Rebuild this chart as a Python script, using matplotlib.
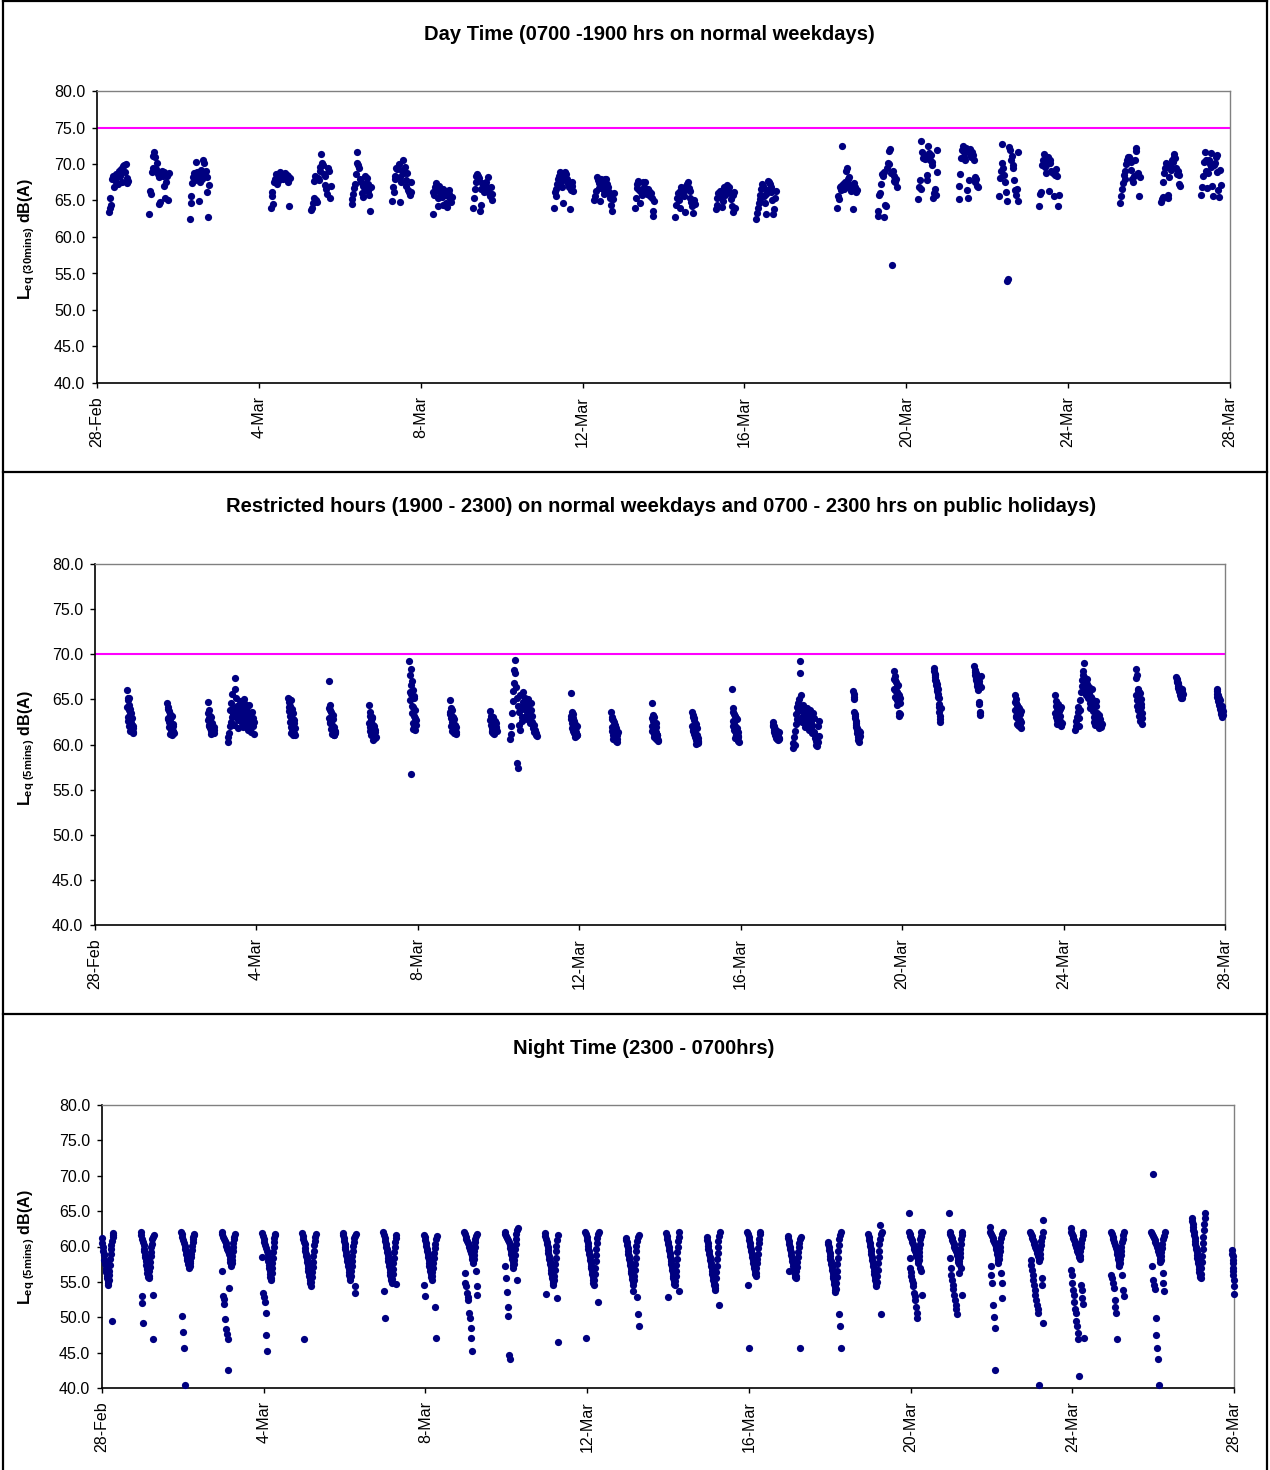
import matplotlib
matplotlib.use('Agg')
import matplotlib.pyplot as plt
from matplotlib.lines import Line2D
import numpy as np

plt.rcParams['font.family'] = ['Liberation Sans', 'DejaVu Sans']
plt.rcParams['mathtext.fontset'] = 'custom'
plt.rcParams['mathtext.rm'] = 'Liberation Sans'
plt.rcParams['mathtext.bf'] = 'Liberation Sans:bold'
plt.rcParams['mathtext.it'] = 'Liberation Sans:italic'

# ---------------- data ----------------
TICK_DAYS = [0, 4, 8, 12, 16, 20, 24, 28]          # days since 28-Feb 00:00
TICK_LABELS = ['28-Feb', '4-Mar', '8-Mar', '12-Mar', '16-Mar', '20-Mar', '24-Mar', '28-Mar']
Y_TICKS = [40.0, 45.0, 50.0, 55.0, 60.0, 65.0, 70.0, 75.0, 80.0]

TITLE_DAY = 'Day Time (0700 -1900 hrs on normal weekdays)'
TITLE_RESTR = 'Restricted hours (1900 - 2300) on normal weekdays and 0700 - 2300 hrs on public holidays)'
TITLE_NIGHT = 'Night Time (2300 - 0700hrs)'

DAY_LIMIT = 75.0
RESTR_LIMIT = 70.0

# Day time: Leq(30 min), 07:00-19:00 on normal weekdays
DAY_DAYS = [0, 1, 2, 4, 5, 6, 7, 8, 9, 11, 12, 13, 14, 15, 16, 18, 19, 20, 21, 22, 23, 25, 26, 27]
DAY_VALUES = [
    [63.4, 65.3, 64.0, 64.4, 67.9, 68.3, 66.8, 68.0, 67.5, 68.6, 68.2, 67.2, 69.0, 68.4, 69.3, 68.8, 67.6, 69.7, 69.9, 68.9, 70.0, 68.1, 67.4, 67.7],
    [63.2, 66.3, 65.9, 68.9, 69.5, 71.1, 71.6, 70.9, 69.3, 70.2, 68.6, 68.2, 64.5, 64.8, 68.7, 69.1, 68.3, 68.9, 67.0, 65.4, 67.5, 68.4, 65.0, 68.8],
    [62.4, 65.6, 64.7, 67.4, 68.2, 68.7, 67.8, 70.3, 68.4, 68.9, 68.1, 64.9, 67.6, 69.2, 68.6, 68.0, 70.6, 70.2, 68.4, 69.0, 68.2, 66.2, 62.8, 67.1],
    [64.0, 66.1, 65.6, 64.5, 67.5, 68.0, 68.6, 67.2, 68.5, 68.3, 67.8, 68.9, 68.4, 68.6, 68.1, 67.9, 68.4, 68.7, 68.2, 68.5, 67.6, 68.4, 64.3, 68.1],
    [63.7, 64.0, 64.6, 65.3, 67.7, 68.4, 65.0, 64.8, 68.1, 67.8, 69.0, 69.6, 71.4, 70.2, 69.9, 68.6, 68.4, 67.1, 66.6, 65.9, 69.4, 69.1, 65.3, 67.0],
    [64.5, 65.2, 65.9, 66.7, 67.3, 68.6, 70.2, 71.6, 69.8, 69.4, 68.0, 67.6, 66.0, 65.5, 67.0, 66.8, 68.3, 67.4, 68.1, 67.3, 66.3, 65.8, 63.6, 66.9],
    [64.9, 66.9, 66.1, 67.9, 68.4, 69.4, 69.3, 69.5, 70.0, 64.8, 68.2, 67.5, 69.1, 70.5, 68.8, 69.6, 67.8, 67.0, 68.7, 66.4, 66.2, 65.7, 67.5, 66.1],
    [63.2, 66.1, 65.8, 66.8, 67.4, 66.4, 65.3, 64.2, 67.0, 66.2, 65.9, 65.5, 64.4, 66.6, 65.7, 66.3, 64.6, 64.1, 65.6, 65.9, 66.5, 65.3, 64.8, 65.5],
    [64.0, 65.4, 66.6, 67.6, 68.3, 68.6, 68.4, 68.1, 63.6, 64.4, 66.6, 67.4, 66.7, 66.2, 66.9, 66.5, 67.6, 66.8, 68.2, 66.0, 65.6, 66.8, 65.1, 65.9],
    [64.0, 66.1, 65.6, 66.6, 67.2, 67.9, 68.4, 68.9, 68.2, 67.5, 66.9, 64.6, 68.3, 68.9, 68.6, 68.0, 67.7, 67.2, 66.8, 63.9, 66.4, 67.5, 67.0, 66.3],
    [65.0, 65.6, 66.3, 68.2, 67.8, 67.4, 66.7, 64.9, 68.0, 67.3, 66.6, 65.9, 66.5, 67.9, 68.0, 67.2, 66.8, 66.2, 65.7, 65.4, 64.4, 63.6, 65.2, 66.0],
    [64.0, 65.4, 66.7, 67.2, 67.7, 66.5, 64.6, 66.2, 66.0, 65.8, 67.5, 66.9, 67.6, 66.4, 65.9, 66.1, 66.6, 66.3, 65.6, 66.0, 65.3, 63.5, 62.9, 64.9],
    [62.7, 64.4, 65.4, 66.0, 65.1, 64.0, 66.3, 66.8, 66.1, 65.8, 65.6, 63.4, 66.5, 67.0, 67.2, 67.5, 66.7, 66.3, 65.3, 64.8, 64.2, 63.3, 65.0, 64.5],
    [63.8, 64.4, 65.4, 66.0, 65.6, 66.3, 65.5, 64.1, 64.9, 66.4, 66.8, 65.8, 66.7, 67.1, 66.5, 66.1, 66.9, 66.0, 65.2, 64.2, 65.7, 63.4, 66.2, 64.0],
    [62.4, 63.3, 64.0, 64.7, 65.2, 65.8, 66.6, 67.3, 67.0, 65.6, 64.6, 63.1, 65.9, 66.4, 67.7, 67.5, 67.3, 66.9, 66.1, 65.0, 63.2, 63.8, 65.4, 66.3],
    [64.0, 65.6, 65.2, 66.8, 67.0, 66.4, 72.5, 67.2, 66.6, 67.5, 66.9, 69.0, 69.5, 67.9, 68.2, 67.1, 66.7, 66.3, 66.9, 63.8, 67.4, 66.9, 66.1, 66.5],
    [62.9, 63.6, 65.7, 66.0, 67.3, 68.6, 68.3, 68.9, 62.8, 64.4, 64.2, 69.4, 70.2, 70.0, 71.8, 72.0, 68.7, 56.1, 69.1, 67.7, 68.4, 67.6, 68.0, 66.8],
    [65.2, 66.9, 67.8, 66.6, 73.1, 71.6, 70.8, 71.3, 70.7, 71.0, 67.8, 68.5, 72.4, 71.5, 70.5, 71.2, 69.9, 70.3, 65.4, 66.0, 66.6, 65.7, 68.9, 71.9],
    [65.2, 67.0, 68.6, 70.8, 71.9, 72.5, 71.0, 71.6, 70.5, 72.2, 66.4, 65.4, 67.8, 71.4, 72.1, 70.9, 71.6, 71.2, 70.6, 68.2, 67.5, 67.9, 67.0, 66.8],
    [65.6, 68.1, 69.0, 70.2, 72.8, 69.5, 68.5, 67.6, 66.1, 64.9, 54.0, 54.2, 72.3, 71.9, 70.6, 71.1, 69.8, 69.4, 67.8, 66.5, 65.8, 66.6, 71.6, 64.9],
    [64.3, 65.9, 66.2, 69.9, 70.6, 71.4, 70.4, 69.6, 68.8, 70.0, 71.0, 66.3, 70.5, 70.1, 69.1, 68.9, 68.7, 65.6, 68.5, 68.6, 69.3, 68.4, 64.2, 65.8],
    [64.7, 65.6, 66.6, 67.4, 68.5, 69.0, 68.0, 70.0, 70.6, 70.9, 71.0, 70.7, 70.3, 69.2, 67.9, 67.5, 68.4, 70.5, 72.2, 71.8, 68.6, 68.8, 65.6, 68.2],
    [64.8, 65.2, 65.5, 67.5, 68.7, 69.4, 70.1, 69.9, 65.7, 65.3, 68.2, 69.7, 69.2, 70.5, 70.3, 71.0, 71.4, 70.8, 69.5, 68.6, 69.0, 68.5, 67.2, 67.0],
    [65.8, 66.8, 68.4, 70.3, 71.7, 70.6, 69.1, 66.7, 68.7, 70.5, 70.0, 71.5, 69.6, 67.0, 65.6, 69.8, 70.2, 70.9, 71.2, 68.9, 66.5, 65.5, 69.2, 67.1],
]

# Restricted hours: Leq(5 min); 19:00-23:00 on normal days, 07:00-23:00 on holidays (Sundays)
RESTR_DAYS = list(range(28))
RESTR_HOLIDAYS = [3, 10, 17, 24]
RESTR_VALUES = [
    [66.0, 64.2, 64.9, 63.1, 65.2, 62.6, 64.4, 63.8, 62.0, 65.1, 63.4, 61.5, 63.9, 62.8, 61.6, 63.5, 62.4, 62.9, 61.9, 62.2, 61.4, 61.8, 61.3, 62.1],
    [64.6, 62.8, 63.9, 62.9, 64.2, 61.9, 63.7, 62.5, 62.0, 63.4, 62.6, 61.2, 63.0, 61.7, 61.6, 63.2, 61.8, 62.2, 61.0, 62.3, 62.1, 61.4, 61.5, 61.3],
    [64.7, 62.7, 63.5, 62.2, 63.8, 62.0, 62.9, 62.6, 61.8, 63.2, 62.3, 61.2, 63.1, 61.5, 62.1, 62.4, 61.6, 61.9, 61.4, 61.7, 61.3, 61.3, 61.9, 61.6],
    [60.3, 60.8, 61.3, 62.0, 63.8, 64.6, 62.5, 63.1, 65.6, 64.0, 63.4, 62.2, 66.2, 67.4, 65.2, 63.6, 64.3, 63.0, 62.7, 61.8, 63.5, 64.8, 63.9, 62.9,
     63.2, 64.1, 62.4, 61.9, 63.7, 65.0, 64.5, 63.3, 62.6, 63.9, 64.2, 62.1, 61.6, 63.0, 64.4, 63.5, 62.8, 62.3, 61.4, 63.6, 62.9, 62.0, 61.2, 62.5],
    [65.2, 64.1, 64.7, 63.7, 65.0, 62.5, 64.3, 63.2, 61.9, 64.9, 63.0, 61.3, 63.9, 62.2, 61.5, 63.5, 61.6, 62.8, 61.1, 62.7, 61.3, 62.4, 61.8, 61.0],
    [67.0, 62.9, 64.0, 62.4, 64.4, 62.5, 63.8, 62.6, 61.7, 63.6, 62.1, 61.2, 63.2, 62.2, 61.6, 63.3, 61.8, 62.8, 61.0, 61.9, 61.1, 61.4, 61.5, 61.3],
    [64.4, 62.4, 63.2, 61.9, 63.6, 61.5, 62.7, 62.6, 61.1, 63.0, 61.7, 61.2, 62.9, 61.3, 60.5, 62.2, 60.9, 62.1, 61.0, 61.8, 61.4, 61.6, 60.7, 60.8],
    [69.3, 65.8, 67.7, 64.9, 68.4, 56.7, 66.6, 65.6, 63.5, 67.0, 64.3, 62.4, 66.0, 64.1, 61.7, 65.4, 63.2, 65.2, 62.0, 63.8, 61.6, 62.9, 62.7, 62.2],
    [64.9, 63.4, 63.6, 62.9, 64.0, 62.0, 63.3, 62.5, 61.5, 63.8, 62.6, 61.6, 63.0, 62.3, 62.1, 62.8, 61.3, 62.2, 61.8, 61.8, 61.7, 61.9, 61.2, 61.4],
    [63.7, 62.7, 62.9, 62.2, 63.2, 61.4, 62.6, 61.8, 61.5, 63.1, 61.9, 61.3, 62.3, 61.2, 62.0, 62.0, 62.1, 61.6, 62.6, 61.7, 61.9, 62.4, 61.8, 61.5],
    [60.6, 61.2, 62.0, 63.5, 64.8, 65.9, 66.8, 68.3, 69.4, 67.9, 66.4, 65.1, 57.9, 57.4, 64.3, 63.6, 62.2, 61.6, 65.5, 64.0, 63.1, 62.6, 65.8, 64.7,
     63.9, 62.9, 64.5, 65.2, 64.1, 63.4, 62.8, 65.0, 64.4, 63.7, 63.0, 62.4, 64.6, 63.8, 63.2, 62.5, 62.0, 61.8, 61.4, 62.2, 61.6, 61.1, 61.3, 60.9],
    [65.7, 62.8, 63.2, 62.4, 63.6, 61.8, 62.9, 62.1, 61.5, 63.4, 61.6, 61.3, 62.6, 61.2, 61.6, 62.3, 60.8, 61.9, 60.9, 61.4, 61.2, 61.0, 61.1, 62.0],
    [63.6, 61.9, 62.8, 61.5, 63.1, 61.0, 62.7, 61.7, 60.6, 62.5, 61.3, 60.7, 62.2, 60.8, 60.9, 62.1, 60.4, 61.8, 60.5, 61.2, 60.6, 61.0, 60.3, 61.4],
    [64.6, 62.0, 62.9, 61.5, 63.3, 61.6, 62.6, 61.8, 60.8, 63.1, 61.2, 60.9, 62.3, 61.3, 61.4, 62.4, 60.6, 61.9, 60.7, 61.0, 61.0, 61.1, 60.4, 60.5],
    [63.6, 62.1, 63.0, 61.6, 63.3, 61.5, 62.9, 61.9, 61.2, 62.7, 61.3, 60.8, 62.4, 60.9, 60.1, 62.3, 60.5, 61.8, 60.6, 61.1, 60.2, 60.7, 60.3, 60.4],
    [66.1, 62.6, 63.6, 62.1, 64.0, 61.6, 63.4, 62.3, 61.5, 63.2, 62.0, 60.7, 62.9, 61.1, 61.0, 62.8, 61.2, 61.8, 60.6, 61.4, 60.8, 60.9, 60.4, 60.3],
    [62.5, 62.2, 62.0, 61.8, 62.1, 61.6, 61.4, 61.7, 61.2, 61.0, 61.3, 60.9, 61.1, 60.7, 61.5, 60.8, 60.6, 61.0, 60.5, 61.2, 60.9, 60.7, 61.4, 60.6],
    [60.2, 59.6, 60.8, 61.5, 60.0, 62.3, 63.4, 64.1, 62.8, 63.7, 64.6, 65.0, 69.2, 67.9, 65.5, 64.3, 63.1, 62.5, 63.9, 64.4, 63.5, 62.7, 61.9, 62.4,
     63.3, 64.0, 63.6, 62.9, 62.1, 61.6, 63.0, 63.8, 62.6, 61.8, 62.2, 61.3, 63.5, 62.9, 61.4, 60.7, 61.1, 60.4, 60.0, 59.8, 60.3, 62.1, 62.6, 60.9],
    [65.9, 65.6, 65.3, 65.0, 63.6, 63.2, 62.9, 63.4, 62.6, 62.2, 62.4, 61.9, 61.6, 61.8, 61.3, 61.0, 61.2, 60.8, 60.5, 60.7, 60.3, 61.5, 60.9, 61.4],
    [68.1, 66.2, 67.3, 66.0, 67.6, 65.3, 67.1, 65.9, 65.1, 66.9, 65.8, 64.4, 66.5, 64.9, 64.7, 66.6, 64.8, 65.6, 63.2, 65.5, 63.5, 64.6, 63.4, 65.2],
    [68.5, 68.1, 67.8, 67.5, 67.7, 67.2, 66.9, 67.0, 66.6, 66.4, 66.7, 66.1, 65.9, 66.2, 65.6, 65.3, 65.1, 64.5, 64.2, 63.6, 63.2, 62.8, 62.5, 64.0],
    [68.7, 68.3, 68.0, 67.7, 67.9, 67.4, 67.1, 67.3, 66.8, 66.5, 66.9, 66.3, 66.6, 66.0, 66.2, 67.0, 66.7, 64.7, 64.5, 63.6, 63.3, 63.5, 66.4, 67.6],
    [65.5, 63.8, 64.7, 63.2, 65.0, 63.1, 64.6, 63.5, 62.3, 64.4, 62.9, 62.2, 64.1, 62.8, 63.3, 64.0, 62.0, 63.4, 62.7, 62.6, 62.1, 62.5, 61.8, 63.7],
    [65.5, 63.5, 64.3, 63.0, 64.8, 62.7, 64.0, 63.3, 62.3, 64.5, 62.9, 63.4, 63.8, 62.8, 63.1, 63.7, 62.6, 63.2, 63.9, 62.5, 62.2, 62.1, 64.1, 62.4],
    [61.6, 62.1, 62.6, 63.0, 63.6, 64.2, 62.0, 62.9, 63.8, 64.9, 65.8, 66.5, 67.2, 67.7, 68.1, 69.0, 67.5, 66.9, 66.2, 65.5, 66.7, 67.3, 66.0, 65.2,
     66.4, 65.7, 64.6, 64.0, 65.3, 66.1, 65.0, 64.4, 63.7, 63.1, 62.5, 62.2, 64.8, 64.3, 63.5, 63.0, 62.6, 62.0, 61.8, 63.3, 62.8, 62.4, 61.9, 62.3],
    [68.4, 65.5, 67.4, 64.9, 67.7, 64.3, 66.0, 65.2, 63.8, 66.2, 64.6, 63.2, 65.8, 64.0, 62.6, 65.7, 63.7, 65.0, 63.0, 64.5, 64.1, 63.5, 62.9, 62.3],
    [67.5, 67.3, 67.1, 66.9, 67.0, 66.7, 66.5, 66.8, 66.3, 66.1, 66.4, 65.9, 66.0, 65.7, 65.5, 65.8, 65.3, 65.6, 65.1, 65.4, 65.9, 66.2, 65.2, 65.6],
    [66.2, 65.9, 65.6, 65.3, 65.5, 65.0, 64.8, 65.1, 64.6, 64.4, 64.7, 64.2, 64.9, 63.9, 64.1, 63.6, 63.8, 63.4, 63.1, 63.5, 64.3, 64.0, 63.3, 63.7],
]

# Night time: Leq(5 min), 23:00-07:00; keyed by the date on which the night starts
NIGHT_DAYS = list(range(-1, 28))
NIGHT_VALUES = [
    [61.2, 60.5, 60.0, 59.4, 58.8, 58.9, 58.1, 57.5, 57.8, 56.9, 56.4, 56.7, 55.9, 55.5, 55.1, 54.8, 54.6, 55.3, 56.0, 56.6, 57.4, 58.2, 58.9, 59.6, 60.2, 49.5, 60.8, 61.4, 61.9, 61.6],
    [62.0, 61.6, 53.0, 61.1, 52.0, 60.6, 49.2, 60.2, 59.7, 59.3, 58.8, 58.5, 57.9, 58.2, 57.4, 57.0, 56.8, 56.3, 56.0, 55.7, 55.5, 55.9, 56.5, 57.1, 57.8, 58.6, 59.2, 59.9, 60.4, 61.0, 53.2, 61.4, 46.9, 61.6],
    [62.0, 61.7, 61.3, 50.2, 60.9, 47.9, 60.5, 45.6, 60.1, 40.4, 59.7, 59.4, 59.0, 58.7, 58.4, 58.1, 57.8, 57.5, 57.3, 57.0, 57.2, 57.6, 58.0, 58.5, 59.0, 59.5, 60.1, 60.6, 61.0, 61.4, 61.6, 61.8],
    [62.0, 56.5, 61.7, 53.0, 61.4, 52.6, 61.1, 51.9, 60.8, 49.7, 60.5, 48.3, 60.1, 47.6, 59.7, 46.9, 59.4, 42.6, 59.0, 54.1, 58.6, 58.2, 57.8, 57.5, 57.2, 57.6, 58.1, 58.7, 59.3, 59.9, 60.5, 61.0, 61.4, 61.8],
    [61.9, 58.5, 61.5, 53.4, 61.0, 52.9, 60.6, 52.2, 60.2, 50.6, 59.8, 47.5, 59.3, 45.2, 58.9, 58.4, 57.9, 57.4, 57.0, 56.6, 56.1, 55.7, 55.3, 55.6, 56.2, 56.9, 57.6, 58.4, 59.2, 59.9, 60.6, 61.2, 61.8, 61.6],
    [61.9, 61.5, 61.1, 60.7, 46.9, 60.3, 59.8, 59.4, 59.0, 58.6, 58.2, 57.8, 57.4, 57.0, 56.6, 56.2, 55.9, 55.6, 55.2, 54.8, 54.4, 55.0, 55.7, 56.4, 57.1, 57.8, 58.6, 59.4, 60.2, 60.8, 61.3, 61.7],
    [61.9, 61.6, 61.2, 60.8, 60.4, 60.0, 59.6, 59.2, 58.8, 58.4, 58.0, 57.6, 57.2, 56.8, 56.4, 56.0, 55.6, 55.3, 55.8, 56.5, 57.2, 58.0, 58.7, 59.4, 60.1, 60.7, 61.2, 54.4, 61.5, 53.4, 61.7],
    [62.0, 61.6, 53.7, 61.2, 49.9, 60.8, 60.4, 60.0, 59.6, 59.2, 58.8, 58.4, 58.0, 57.6, 57.2, 56.8, 56.4, 56.0, 55.6, 55.2, 54.8, 55.4, 56.1, 56.8, 57.6, 58.4, 59.2, 60.0, 60.7, 61.2, 54.7, 61.6],
    [61.6, 54.6, 61.3, 53.0, 60.9, 60.5, 60.1, 59.7, 59.3, 58.9, 58.5, 58.1, 57.7, 57.3, 56.9, 56.5, 56.1, 55.7, 55.3, 55.8, 56.4, 57.0, 57.7, 58.4, 59.1, 59.8, 60.4, 51.4, 61.0, 47.1, 61.5],
    [62.0, 56.2, 61.7, 54.8, 61.4, 54.4, 61.1, 53.4, 60.8, 52.9, 60.5, 52.5, 60.2, 50.6, 59.9, 49.9, 59.5, 48.5, 59.1, 47.1, 58.7, 45.2, 58.3, 57.9, 57.7, 58.2, 58.8, 59.4, 60.0, 60.6, 61.1, 56.5, 61.5, 54.4, 61.8, 53.1],
    [62.1, 57.3, 61.8, 55.5, 61.5, 53.6, 61.2, 51.5, 60.9, 50.2, 60.6, 44.7, 60.2, 44.1, 59.8, 59.4, 59.0, 58.6, 58.2, 57.8, 57.4, 57.0, 57.5, 58.1, 58.8, 59.6, 60.4, 61.1, 61.8, 55.2, 62.3, 62.6],
    [61.9, 61.5, 53.3, 61.1, 60.7, 60.3, 59.9, 59.5, 59.1, 58.7, 58.3, 57.9, 57.5, 57.1, 56.7, 56.3, 55.9, 55.5, 55.1, 54.8, 54.6, 55.2, 55.9, 56.7, 57.5, 58.4, 59.3, 60.1, 52.7, 60.9, 46.5, 61.6],
    [62.1, 61.7, 47.1, 61.3, 60.9, 60.5, 60.1, 59.7, 59.3, 58.9, 58.5, 58.1, 57.7, 57.3, 56.9, 56.5, 56.1, 55.7, 55.3, 54.9, 54.6, 55.3, 56.1, 57.0, 57.9, 58.8, 59.7, 60.5, 61.2, 52.1, 61.7, 62.1],
    [61.2, 60.9, 60.6, 60.2, 59.8, 59.4, 59.0, 58.6, 58.2, 57.8, 57.4, 57.0, 56.6, 56.2, 55.8, 55.4, 55.0, 54.6, 53.7, 55.2, 55.9, 56.7, 57.5, 58.4, 59.3, 60.1, 60.8, 52.9, 61.3, 50.5, 61.6, 48.7],
    [61.9, 61.5, 61.1, 52.9, 60.7, 60.3, 59.9, 59.5, 59.1, 58.7, 58.3, 57.9, 57.5, 57.1, 56.7, 56.3, 55.9, 55.5, 55.1, 54.7, 54.5, 55.1, 55.8, 56.6, 57.4, 58.3, 59.2, 60.0, 60.8, 53.7, 61.4, 62.0],
    [61.3, 60.9, 60.5, 60.1, 59.7, 59.3, 58.9, 58.5, 58.1, 57.7, 57.3, 56.9, 56.5, 56.1, 55.7, 55.3, 54.9, 54.5, 54.2, 53.9, 54.6, 55.5, 56.4, 57.3, 58.2, 59.1, 60.0, 60.8, 51.8, 61.5, 62.1],
    [62.1, 54.5, 61.7, 45.7, 61.3, 60.9, 60.5, 60.1, 59.7, 59.3, 58.9, 58.5, 58.1, 57.7, 57.3, 56.9, 56.5, 56.1, 55.8, 56.3, 56.9, 57.6, 58.3, 59.0, 59.8, 60.5, 61.1, 61.7, 62.1],
    [61.5, 61.2, 60.8, 56.6, 60.4, 60.0, 59.6, 59.2, 58.8, 58.4, 58.0, 57.6, 57.2, 56.8, 56.4, 56.0, 55.7, 55.5, 55.9, 56.5, 57.1, 57.8, 58.5, 59.2, 59.9, 60.5, 45.7, 61.0, 61.3],
    [60.6, 60.3, 59.9, 59.5, 59.1, 58.7, 58.3, 57.9, 57.5, 57.1, 56.7, 56.3, 55.9, 55.5, 55.1, 54.7, 54.3, 53.9, 53.5, 54.0, 54.8, 55.7, 56.6, 57.5, 58.4, 59.3, 60.2, 61.0, 50.5, 61.6, 48.7, 62.1, 45.7],
    [61.7, 61.3, 60.9, 60.5, 60.1, 59.7, 59.3, 58.9, 58.5, 58.1, 57.7, 57.3, 56.9, 56.5, 56.1, 55.7, 55.3, 54.9, 54.6, 54.4, 55.0, 55.8, 56.7, 57.6, 58.5, 59.4, 60.3, 61.1, 63.0, 61.7, 50.5, 62.1],
    [64.8, 62.1, 58.4, 61.8, 56.9, 61.5, 56.4, 61.2, 55.8, 60.9, 55.3, 60.6, 54.8, 60.3, 54.4, 60.0, 53.4, 59.7, 53.0, 59.4, 52.5, 59.1, 51.5, 58.8, 50.6, 58.5, 49.9, 58.2, 57.9, 57.7, 58.1, 58.6, 59.2, 59.8, 60.4, 61.0, 56.9, 61.5, 56.5, 62.0, 53.2, 62.1],
    [64.8, 62.1, 58.4, 61.8, 56.9, 61.5, 56.0, 61.2, 55.3, 60.9, 54.6, 60.6, 54.0, 60.3, 53.2, 60.0, 52.5, 59.7, 51.8, 59.4, 51.2, 59.1, 50.4, 58.8, 58.5, 58.1, 57.8, 57.5, 56.3, 57.9, 58.5, 59.1, 59.7, 60.4, 61.0, 56.9, 61.6, 53.2, 62.1],
    [62.8, 62.1, 57.2, 61.8, 56.0, 61.5, 54.8, 61.2, 51.8, 60.9, 50.1, 60.6, 48.5, 60.3, 42.6, 60.0, 59.7, 59.3, 58.9, 58.5, 58.1, 57.7, 58.2, 58.8, 59.4, 60.0, 60.6, 56.2, 61.2, 54.8, 61.7, 52.7, 62.1],
    [62.1, 58.1, 61.8, 57.4, 61.5, 56.7, 61.2, 56.0, 60.9, 55.3, 60.6, 54.6, 60.3, 53.9, 60.0, 53.2, 59.7, 52.5, 59.4, 51.8, 59.1, 51.1, 58.7, 50.6, 58.3, 40.4, 57.9, 58.4, 59.0, 59.6, 60.2, 60.8, 55.5, 61.4, 54.6, 62.0, 49.2, 63.8],
    [62.6, 56.7, 62.1, 56.0, 61.8, 54.8, 61.5, 53.9, 61.2, 53.2, 60.9, 52.1, 60.6, 51.2, 60.3, 50.6, 60.0, 49.5, 59.7, 48.7, 59.4, 47.8, 59.1, 46.9, 58.8, 41.7, 58.5, 58.3, 58.7, 59.3, 59.9, 54.6, 60.5, 53.8, 61.1, 52.7, 61.6, 51.9, 62.0, 47.1],
    [62.1, 56.0, 61.8, 55.5, 61.4, 54.9, 61.0, 54.2, 60.6, 52.4, 60.2, 51.5, 59.8, 50.6, 59.4, 46.9, 59.0, 58.6, 58.2, 57.8, 57.4, 57.2, 57.6, 58.2, 58.8, 59.4, 60.0, 60.6, 56.0, 61.1, 53.9, 61.6, 53.0, 62.0],
    [62.1, 57.3, 61.8, 55.2, 61.5, 70.2, 61.2, 54.6, 60.9, 54.0, 60.6, 49.9, 60.3, 47.5, 60.0, 45.7, 59.7, 44.1, 59.4, 40.4, 59.0, 58.6, 58.2, 57.8, 58.1, 58.6, 59.2, 59.8, 60.4, 56.2, 61.0, 54.8, 61.5, 53.7, 62.0],
    [64.0, 63.6, 63.2, 62.8, 62.4, 62.0, 61.6, 61.2, 60.8, 60.4, 60.0, 59.6, 59.2, 58.8, 58.4, 58.0, 57.6, 57.2, 56.8, 56.4, 56.0, 55.7, 55.5, 56.1, 56.9, 57.8, 58.7, 59.6, 60.5, 61.4, 62.3, 63.2, 64.0, 64.7],
    [59.5, 59.0, 58.6, 58.1, 57.6, 57.0, 56.5, 56.0, 55.3, 54.4, 53.3],
]

# period hours
DAY_START_H, DAY_END_H = 7, 19
RESTR_START_H, RESTR_HOL_START_H, RESTR_END_H = 19, 7, 23
NIGHT_START_H, NIGHT_END_H = 23, 31   # 07:00 next day
X_MIN, X_MAX = 0, 28

# ---------------- figure ----------------
W, H = 1270, 1470
fig = plt.figure(figsize=(W / 100, H / 100), dpi=100)
MARK = dict(marker='o', linestyle='none', ms=5.2, color='#000080', mew=0, clip_on=False, zorder=3)


def add_ax(l, t, r, b):
    return fig.add_axes([l / W, 1 - b / H, (r - l) / W, (b - t) / H])


def style(ax):
    ax.set_xlim(X_MIN, X_MAX)
    ax.set_ylim(40, 80)
    ax.set_yticks(Y_TICKS)
    ax.set_yticklabels([f'{v:.1f}' for v in Y_TICKS])
    ax.set_xticks(TICK_DAYS)
    ax.set_xticklabels(TICK_LABELS, rotation=90)
    for s in ('top', 'right'):
        ax.spines[s].set_color('#808080')
        ax.spines[s].set_linewidth(1.0)
    for s in ('left', 'bottom'):
        ax.spines[s].set_color('black')
        ax.spines[s].set_linewidth(1.2)
    ax.tick_params(axis='both', direction='out', length=3.5, width=1, labelsize=11.5, colors='black')
    ax.tick_params(axis='y', pad=5)
    ax.tick_params(axis='x', pad=6)


# Day time
ax1 = add_ax(97, 91, 1230, 383)
style(ax1)
ax1.axhline(DAY_LIMIT, color='#FF00FF', lw=1.5, zorder=2)
for d, vals in zip(DAY_DAYS, DAY_VALUES):
    t = np.linspace(d + DAY_START_H / 24, d + DAY_END_H / 24, len(vals), endpoint=False)
    ax1.plot(t, vals, **MARK)

# Restricted
ax2 = add_ax(95, 564, 1225, 925)
style(ax2)
ax2.axhline(RESTR_LIMIT, color='#FF00FF', lw=1.5, zorder=2)
for d, vals in zip(RESTR_DAYS, RESTR_VALUES):
    start = RESTR_HOL_START_H if d in RESTR_HOLIDAYS else RESTR_START_H
    t = np.linspace(d + start / 24, d + RESTR_END_H / 24, len(vals), endpoint=False)
    ax2.plot(t, vals, **MARK)

# Night
ax3 = add_ax(102, 1105, 1234, 1388)
style(ax3)
for d, vals in zip(NIGHT_DAYS, NIGHT_VALUES):
    t0 = max(X_MIN, d + NIGHT_START_H / 24)
    t1 = min(X_MAX, d + NIGHT_END_H / 24)
    t = np.linspace(t0, t1, len(vals), endpoint=False)
    ax3.plot(t, vals, **MARK)

# titles
fig.text(649 / W, 1 - 34 / H, TITLE_DAY, ha='center', va='center', fontsize=14.5, fontweight='bold')
fig.text(661 / W, 1 - 507 / H, TITLE_RESTR, ha='center', va='center', fontsize=14.5, fontweight='bold')
fig.text(644 / W, 1 - 1048 / H, TITLE_NIGHT, ha='center', va='center', fontsize=14.5, fontweight='bold')

# y labels
fig.text(27 / W, 1 - 239 / H, r'$\mathbf{L_{eq\ (30mins)}\ dB(A)}$', rotation=90, ha='center', va='center', fontsize=11.5)
fig.text(27 / W, 1 - 748 / H, r'$\mathbf{L_{eq\ (5mins)}\ dB(A)}$', rotation=90, ha='center', va='center', fontsize=11.5)
fig.text(27 / W, 1 - 1247 / H, r'$\mathbf{L_{eq\ (5mins)}\ dB(A)}$', rotation=90, ha='center', va='center', fontsize=11.5)

# chart-area frames
def fline(x0, y0, x1, y1):
    fig.add_artist(Line2D([x0 / W, x1 / W], [1 - y0 / H, 1 - y1 / H], color='black', lw=1.6))

fline(2.5, 0.8, 1266.5, 0.8)
fline(2.5, 0, 2.5, H)
fline(1266.5, 0, 1266.5, H)
fline(2.5, 471.5, 1266.5, 471.5)
fline(2.5, 1013.5, 1266.5, 1013.5)

fig.savefig('out.png', dpi=100, facecolor='white')
